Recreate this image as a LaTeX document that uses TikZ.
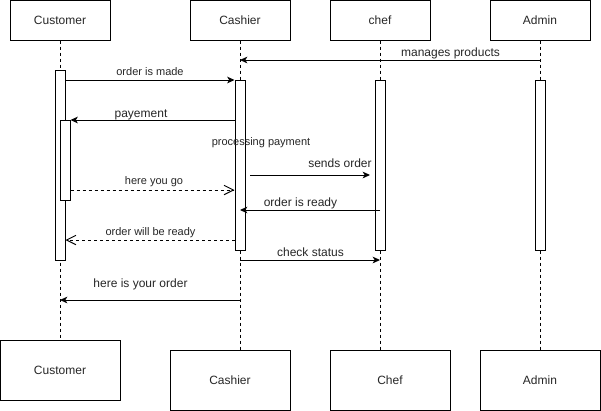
\documentclass[tikz,border=0pt]{standalone}
\usepackage{fontspec}
\setmainfont{Liberation Sans}
\usetikzlibrary{arrows.meta}
\newcommand\fsT{\fontsize{9pt}{10.5pt}\selectfont}
\newcommand\fsE{\fontsize{8.25pt}{9.5pt}\selectfont}
\begin{document}
\begin{tikzpicture}[x=0.75pt,y=-0.75pt,
  every node/.style={inner sep=0pt, text=black!85},
  headbox/.style={draw, line width=0.75pt, minimum width=75pt, minimum height=30pt, font=\fsT},
  footbox/.style={draw, line width=0.75pt, minimum width=90pt, minimum height=45pt, font=\fsT},
  lifeline/.style={line width=0.75pt, dash pattern=on 2.25pt off 2.25pt},
  actbar/.style={draw, fill=white, line width=0.75pt, minimum width=7.5pt},
  msg/.style={line width=0.75pt, -{Stealth[length=5.5pt,width=5pt,inset=1.5pt]}},
  retmsg/.style={line width=0.75pt, dash pattern=on 2.25pt off 2.25pt, -{Straight Barb[length=7pt,width=7pt,line width=0.75pt]}},
  lblT/.style={anchor=base, font=\fsT},
  lblE/.style={anchor=base, font=\fsE}]
\useasboundingbox (0,0) rectangle (601,411);
% head boxes
\node[headbox] (custH) at (60,20) {Customer};
\node[headbox] (cashH) at (240,20) {Cashier};
\node[headbox] (chefH) at (380,20) {chef};
\node[headbox] (admH) at (540,20) {Admin};
% foot boxes
\node[footbox] (custF) at (60,370) {Customer};
\node[footbox] (cashF) at (230,380) {Cashier};
\node[footbox] (chefF) at (390,380) {Chef};
\node[footbox] (admF) at (540,380) {Admin};
% lifelines
\draw[lifeline] (custH.south) -- (custF.north -| custH.south);
\draw[lifeline] (cashH.south) -- (cashF.north -| cashH.south);
\draw[lifeline] (chefH.south) -- (chefF.north -| chefH.south);
\draw[lifeline] (admH.south) -- (admF.north -| admH.south);
% activation bars
\node[actbar, minimum height=142.5pt] (custA) at (60,165) {};
\node[actbar, minimum height=60pt] (custB) at (65,160) {};
\node[actbar, minimum height=127.5pt] (cashA) at (240,165) {};
\node[actbar, minimum height=127.5pt] (chefA) at (380,165) {};
\node[actbar, minimum height=127.5pt] (admA) at (540,165) {};
% messages
\draw[msg] (admA.north |- 0,60) -- (cashA.north |- 0,60);
\node[lblT] (l1) at (450.5,56) {manages products};
\draw[msg] (custA.east |- 0,80) -- (cashA.west |- 0,80);
\node[lblE] (l2) at (150,75.5) {order is made};
\draw[msg] (cashA.west |- 0,120) -- (custB.east |- 0,120);
\node[lblT] (l3) at (141,117) {payement};
\node[lblE] (l4) at (261,145) {processing payment};
\draw[msg] (250,175) coordinate (so) -- (370,175) coordinate (se);
\node[lblT] (l5) at (340,167) {sends order};
\draw[retmsg] (custB.east |- 0,190) -- (cashA.west |- 0,190);
\node[lblE] (l6) at (154,184.5) {here you go};
\draw[msg] (chefA.center |- 0,210) -- (cashA.center |- 0,210);
\node[lblT] (l7) at (300.5,206.5) {order is ready};
\draw[retmsg] (cashA.west |- 0,240) -- (custA.east |- 0,240);
\node[lblE] (l8) at (150.5,235.5) {order will be ready};
\draw[msg] (cashA.center |- 0,260) -- (chefA.center |- 0,260);
\node[lblT] (l9) at (310.5,256.5) {check status};
\draw[msg] (cashA.center |- 0,300) -- (custA.center |- 0,300);
\node[lblT] (l10) at (140.5,287) {here is your order};
\end{tikzpicture}
\end{document}
